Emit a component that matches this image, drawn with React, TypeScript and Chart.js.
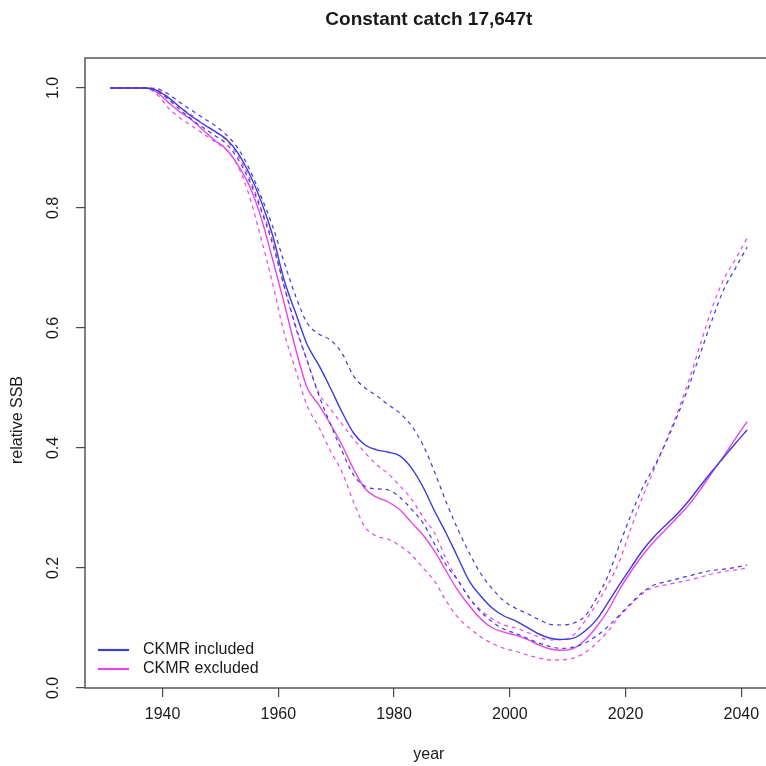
import React, { useEffect, useRef } from 'react';
import { Chart, registerables } from 'chart.js';

Chart.register(...registerables);

const titleText = 'Constant catch 17,647t';
const xTitle = 'year';
const yTitle = 'relative SSB';

const years = [
  1931, 1933, 1935, 1937, 1939, 1941, 1943, 1945, 1947, 1949,
  1951, 1953, 1955, 1957, 1959, 1961, 1963, 1965, 1967, 1969,
  1971, 1973, 1975, 1977, 1979, 1981, 1983, 1985, 1987, 1989,
  1991, 1993, 1995, 1997, 1999, 2001, 2003, 2005, 2007, 2009,
  2011, 2013, 2015, 2017, 2019, 2021, 2023, 2025, 2027, 2029,
  2031, 2033, 2035, 2037, 2039, 2041,
];

// CKMR included (blue)
const blueMid = [
  1.0, 1.0, 1.0, 1.0, 0.996, 0.984, 0.968, 0.953, 0.94, 0.928,
  0.915, 0.892, 0.857, 0.812, 0.755, 0.68, 0.625, 0.572, 0.538, 0.5,
  0.46, 0.425, 0.405, 0.397, 0.393, 0.387, 0.367, 0.335, 0.295, 0.258,
  0.218, 0.178, 0.153, 0.133, 0.12, 0.112, 0.101, 0.09, 0.083, 0.081,
  0.083, 0.095, 0.114, 0.143, 0.173, 0.202, 0.23, 0.253, 0.272, 0.291,
  0.313, 0.338, 0.362, 0.385, 0.408, 0.43,
];
const blueHi = [
  1.0, 1.0, 1.0, 1.0, 0.999, 0.99, 0.976, 0.963, 0.95, 0.938,
  0.922, 0.9, 0.865, 0.82, 0.77, 0.71, 0.653, 0.608, 0.59, 0.58,
  0.558, 0.52, 0.5, 0.487, 0.472, 0.458, 0.437, 0.405, 0.36, 0.31,
  0.265, 0.225, 0.19, 0.165, 0.145, 0.133, 0.124, 0.114, 0.106, 0.105,
  0.108, 0.12, 0.15, 0.188, 0.24, 0.29, 0.335, 0.37, 0.41, 0.455,
  0.505, 0.56, 0.615, 0.665, 0.7, 0.735,
];
const blueLo = [
  1.0, 1.0, 1.0, 1.0, 0.995, 0.981, 0.964, 0.948, 0.934, 0.921,
  0.907, 0.882, 0.845, 0.797, 0.74, 0.67, 0.603, 0.545, 0.488, 0.44,
  0.395, 0.355, 0.336, 0.332, 0.33, 0.318, 0.298, 0.275, 0.24, 0.205,
  0.18, 0.15, 0.127, 0.11, 0.098, 0.091, 0.083, 0.075, 0.069, 0.066,
  0.068, 0.075, 0.087, 0.103, 0.122, 0.142, 0.16, 0.172, 0.177, 0.182,
  0.187, 0.192, 0.196, 0.198, 0.201, 0.205,
];

// CKMR excluded (magenta)
const magMid = [
  1.0, 1.0, 1.0, 1.0, 0.993, 0.976, 0.96, 0.947, 0.93, 0.913,
  0.898, 0.872, 0.837, 0.785, 0.715, 0.642, 0.565, 0.5, 0.472, 0.44,
  0.405, 0.365, 0.332, 0.318, 0.31, 0.297, 0.276, 0.255, 0.228, 0.195,
  0.163, 0.137, 0.115, 0.1, 0.093, 0.088, 0.081, 0.072, 0.065, 0.063,
  0.066, 0.08, 0.102, 0.13, 0.165, 0.195, 0.222, 0.245, 0.265, 0.285,
  0.306, 0.332, 0.36, 0.387, 0.416, 0.444,
];
const magHi = [
  1.0, 1.0, 1.0, 1.0, 0.997, 0.985, 0.968, 0.955, 0.94, 0.928,
  0.913, 0.888, 0.85, 0.8, 0.745, 0.67, 0.6, 0.545, 0.492, 0.465,
  0.44, 0.415, 0.392, 0.372, 0.357, 0.337, 0.315, 0.285, 0.258, 0.215,
  0.18, 0.15, 0.13, 0.115, 0.105, 0.1, 0.093, 0.085, 0.08, 0.08,
  0.088, 0.112, 0.14, 0.173, 0.213, 0.268, 0.32, 0.366, 0.412, 0.46,
  0.515, 0.575, 0.635, 0.682, 0.715, 0.75,
];
const magLo = [
  1.0, 1.0, 1.0, 1.0, 0.99, 0.967, 0.95, 0.937, 0.924, 0.911,
  0.897, 0.87, 0.82, 0.75, 0.675, 0.592, 0.53, 0.47, 0.435, 0.395,
  0.36, 0.31, 0.268, 0.253, 0.248, 0.237, 0.222, 0.2, 0.178, 0.145,
  0.118, 0.1, 0.085, 0.074, 0.066, 0.061, 0.055, 0.05, 0.047, 0.047,
  0.05, 0.059, 0.075, 0.095, 0.12, 0.14, 0.158, 0.168, 0.172, 0.176,
  0.18, 0.185, 0.19, 0.194, 0.197, 0.2,
];

const xTicks = [1940, 1960, 1980, 2000, 2020, 2040];
const yTicks = [0, 0.2, 0.4, 0.6, 0.8, 1.0];
const yTickLabels = ['0.0', '0.2', '0.4', '0.6', '0.8', '1.0'];
const legendLabels = ['CKMR included', 'CKMR excluded'];

const BLUE = '#3b3bdc';
const MAGENTA = '#e845e8';
const FONT = '"Liberation Sans", Arial, Helvetica, sans-serif';
const TEXT = '#1a1a1a';

const toPts = (vals: number[]) => vals.map((v, i) => ({ x: years[i], y: v }));

const decorPlugin = {
  id: 'decor',
  afterDraw(chart: any) {
    const { ctx, chartArea, scales } = chart;
    const { left, right, top, bottom } = chartArea;
    ctx.save();
    // frame
    ctx.strokeStyle = '#4a4a4a';
    ctx.lineWidth = 1.4;
    ctx.strokeRect(left, top, right - left, bottom - top);

    // y labels, rotated
    ctx.fillStyle = TEXT;
    ctx.font = `16px ${FONT}`;
    ctx.textAlign = 'center';
    ctx.textBaseline = 'middle';
    yTicks.forEach((v, i) => {
      const py = scales.y.getPixelForValue(v);
      ctx.save();
      ctx.translate(54, py);
      ctx.rotate(-Math.PI / 2);
      ctx.fillText(yTickLabels[i], 0, 0);
      ctx.restore();
    });

    // y title
    ctx.save();
    ctx.translate(18, 420);
    ctx.rotate(-Math.PI / 2);
    ctx.fillText(yTitle, 0, 0);
    ctx.restore();

    // x title
    ctx.fillText(xTitle, (left + right) / 2, 755);

    // title
    ctx.font = `bold 19px ${FONT}`;
    ctx.fillText(titleText, (left + right) / 2, 20);

    // legend
    ctx.font = `16px ${FONT}`;
    ctx.textAlign = 'left';
    const cols = [BLUE, MAGENTA];
    const ly = [650, 669];
    legendLabels.forEach((lab, i) => {
      ctx.strokeStyle = cols[i];
      ctx.lineWidth = 2.2;
      ctx.beginPath();
      ctx.moveTo(98, ly[i]);
      ctx.lineTo(129, ly[i]);
      ctx.stroke();
      ctx.fillStyle = TEXT;
      ctx.fillText(lab, 143, ly[i]);
    });
    ctx.restore();
  },
};

export default function App() {
  const ref = useRef<HTMLCanvasElement>(null);

  useEffect(() => {
    if (!ref.current) return;
    const mk = (label: string, vals: number[], color: string, dashed: boolean) => ({
      label,
      data: toPts(vals),
      borderColor: color,
      backgroundColor: color,
      borderWidth: dashed ? 1.2 : 1.4,
      borderDash: dashed ? [4, 4] : [],
      pointRadius: 0,
      fill: false,
      cubicInterpolationMode: 'monotone' as const,
    });
    const chart = new Chart(ref.current, {
      type: 'line',
      data: {
        datasets: [
          mk('CKMR included', blueMid, BLUE, false),
          mk('CKMR included upper', blueHi, BLUE, true),
          mk('CKMR included lower', blueLo, BLUE, true),
          mk('CKMR excluded', magMid, MAGENTA, false),
          mk('CKMR excluded upper', magHi, MAGENTA, true),
          mk('CKMR excluded lower', magLo, MAGENTA, true),
        ],
      },
      options: {
        animation: false,
        responsive: false,
        devicePixelRatio: 1,
        layout: { padding: { left: 0, top: 58, right: 37.4, bottom: 0 } },
        plugins: {
          legend: { display: false },
          title: { display: false },
          tooltip: { enabled: false },
        },
        scales: {
          x: {
            type: 'linear',
            min: 1926.6,
            max: 2045.4,
            afterBuildTicks: (s: any) => {
              s.ticks = xTicks.map((v) => ({ value: v }));
            },
            afterFit: (s: any) => {
              s.height = 78;
            },
            grid: {
              display: true,
              drawOnChartArea: false,
              drawTicks: true,
              tickLength: 9,
              color: '#4a4a4a',
              lineWidth: 1.2,
            },
            border: { display: false },
            ticks: {
              autoSkip: false,
              maxRotation: 0,
              minRotation: 0,
              padding: 8,
              color: TEXT,
              font: { size: 16, family: FONT },
              callback: (v: any) => String(v),
            },
          },
          y: {
            type: 'linear',
            min: 0,
            max: 1.05,
            afterBuildTicks: (s: any) => {
              s.ticks = yTicks.map((v) => ({ value: v }));
            },
            afterFit: (s: any) => {
              s.width = 85;
            },
            grid: {
              display: true,
              drawOnChartArea: false,
              drawTicks: true,
              tickLength: 9,
              color: '#4a4a4a',
              lineWidth: 1.2,
            },
            border: { display: false },
            ticks: { display: false },
          },
        },
      },
      plugins: [decorPlugin],
    });
    return () => chart.destroy();
  }, []);

  return (
    <div
      style={{
        position: 'fixed',
        left: 0,
        top: 0,
        width: 766,
        height: 766,
        overflow: 'hidden',
        background: '#ffffff',
      }}
    >
      <canvas
        ref={ref}
        width={810}
        height={766}
        style={{ display: 'block', width: 810, height: 766 }}
      />
    </div>
  );
}
